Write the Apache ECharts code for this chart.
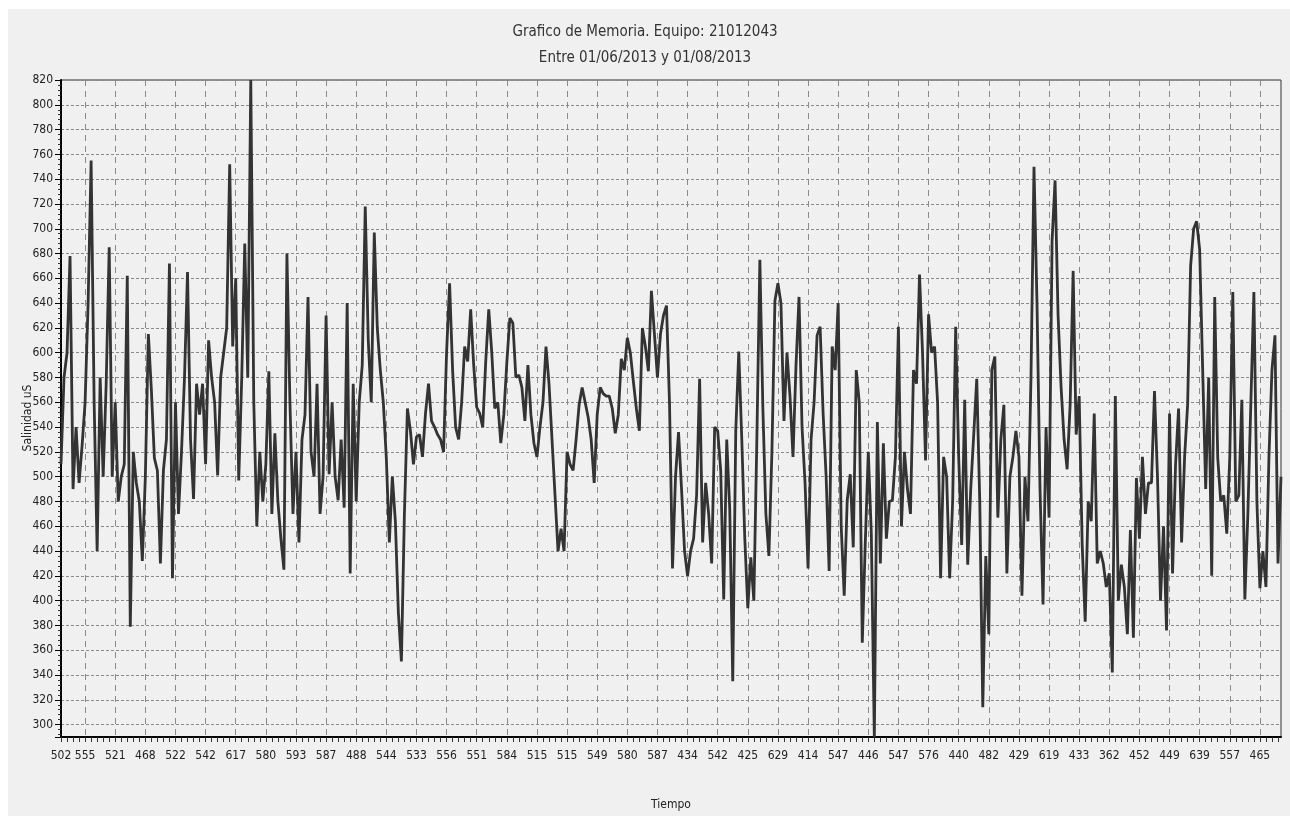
<!DOCTYPE html>
<html>
<head>
<meta charset="utf-8">
<script src="https://cdn.jsdelivr.net/npm/echarts@6/dist/echarts.min.js"></script>
<style>
html,body{margin:0;padding:0;background:#fff;}
#c{width:1290px;height:816px;}
</style>
</head>
<body>
<div id="c"></div>
<script>
const titleText = 'Grafico de Memoria. Equipo: 21012043';
const subtitleText = 'Entre 01/06/2013 y 01/08/2013';
const yAxisName = 'Salinidad uS';
const xAxisName = 'Tiempo';
const yMin = 290;
const yMax = 820;

const xTickLabels = ['502','555','521','468','522','542','617','580','593','587','488','544','533','556','551','584','515','515','549','580','587','434','542','425','629','414','547','446','547','576','440','482','429','619','433','362','452','449','639','557','465'];

const salinidad = [
510,580,600,678,490,540,495,525,560,640,
755,560,440,580,500,575,685,500,560,480,
500,510,662,379,520,495,480,432,500,615,
570,515,505,430,505,530,672,418,560,470,
520,580,665,530,482,575,550,575,510,610,
580,560,501,580,600,620,752,605,660,497,
580,688,580,820,560,460,520,480,510,585,
470,535,480,450,425,680,560,470,520,447,
530,550,645,520,500,575,470,500,630,502,
560,500,481,530,475,640,422,575,480,560,
590,718,610,560,697,620,586,560,515,447,
500,464,390,351,470,555,537,510,532,534,
516,551,575,545,540,534,530,520,600,656,
586,540,530,560,605,593,635,590,556,551,
540,593,635,600,555,560,527,550,592,628,
624,580,582,572,545,590,550,527,516,540,
560,605,575,530,485,440,458,440,520,510,
505,530,558,572,560,548,530,495,550,572,
567,565,565,555,535,550,595,586,612,600,
577,555,537,620,605,585,650,615,580,615,
630,638,560,426,500,536,490,440,420,440,
450,485,579,447,495,470,430,540,537,505,
401,530,474,335,537,601,530,450,394,435,
400,530,675,555,470,436,520,642,656,640,
545,600,565,516,590,645,540,495,426,530,
560,614,621,551,500,424,605,586,640,460,
404,481,502,443,586,560,366,447,520,454,
290,544,430,527,450,480,481,516,621,460,
520,490,470,586,575,663,600,513,631,600,
605,560,418,516,500,418,480,621,516,445,
562,429,490,534,579,480,314,436,373,586,
597,467,530,558,422,500,516,537,516,404,
500,464,580,750,640,490,397,540,467,690,
739,630,572,530,506,558,666,534,565,445,
383,480,464,551,430,440,430,411,422,342,
565,400,429,411,373,457,370,499,450,516,
470,495,495,569,500,400,460,376,551,422,
510,555,447,516,558,670,700,706,683,586,
490,580,420,645,515,480,485,454,516,649,
480,485,562,401,470,560,649,480,410,440,
411,516,586,614,430,500
];

// first tick label sits on the first sample, the next ones every LABEL_STEP samples from LABEL_START
const LABEL_START = 8;
const LABEL_STEP = 10;
function labelSlot(i) {
  if (i === 0) return 0;
  if (i >= LABEL_START && (i - LABEL_START) % LABEL_STEP === 0) return 1 + (i - LABEL_START) / LABEL_STEP;
  return -1;
}
const categories = salinidad.map((_, i) => {
  const s = labelSlot(i);
  return (s >= 0 && s < xTickLabels.length) ? xTickLabels[s] : '';
});

const FONT = "'DejaVu Sans Condensed', 'Liberation Sans', sans-serif";

const chart = echarts.init(document.getElementById('c'), null, {renderer: 'canvas'});
chart.setOption({
  animation: false,
  backgroundColor: '#f0f0f0',
  graphic: [
    {type: 'rect', shape: {x: 0, y: 0, width: 1290, height: 9}, style: {fill: '#ffffff'}, silent: true},
    {type: 'rect', shape: {x: 0, y: 0, width: 8, height: 816}, style: {fill: '#ffffff'}, silent: true}
  ],
  title: [
    {
      text: titleText, left: 'center', top: 23, padding: 0,
      textStyle: {fontFamily: FONT, fontSize: 15, fontWeight: 'normal', color: '#333', lineHeight: 18}
    },
    {
      text: subtitleText, left: 'center', top: 49, padding: 0,
      textStyle: {fontFamily: FONT, fontSize: 15, fontWeight: 'normal', color: '#333', lineHeight: 18}
    }
  ],
  grid: {left: 61, right: 9, top: 80, bottom: 75, show: true, borderColor: '#333', borderWidth: 1, backgroundColor: 'transparent'},
  xAxis: {
    type: 'category',
    data: categories,
    boundaryGap: false,
    name: xAxisName,
    nameLocation: 'middle',
    nameGap: 62,
    nameMoveOverlap: false,
    nameTextStyle: {fontFamily: FONT, fontSize: 12, color: '#222'},
    axisLine: {onZero: false, lineStyle: {color: '#000', width: 2}},
    axisTick: {show: true, interval: (i) => i % 2 === 0, length: 5, lineStyle: {color: '#333'}},
    axisLabel: {interval: (i) => labelSlot(i) >= 0, margin: 13, fontFamily: FONT, fontSize: 12, color: '#222'},
    splitLine: {show: true, interval: (i) => labelSlot(i) > 0, lineStyle: {color: '#8a8a8a', width: 1, type: [6, 5]}}
  },
  yAxis: {
    type: 'value',
    min: yMin,
    max: yMax,
    splitNumber: 26,
    minInterval: 20,
    maxInterval: 20,
    name: yAxisName,
    nameLocation: 'middle',
    nameGap: 27,
    nameMoveOverlap: false,
    nameTextStyle: {fontFamily: FONT, fontSize: 12, color: '#222', padding: [0, 19, 0, 0]},
    axisLine: {show: true, onZero: false, lineStyle: {color: '#000', width: 2}},
    axisTick: {show: true, length: 6, lineStyle: {color: '#000'}},
    minorTick: {show: true, splitNumber: 5, length: 3, lineStyle: {color: '#333'}},
    axisLabel: {margin: 8, fontFamily: FONT, fontSize: 12, color: '#222', formatter: (v) => (v % 20 === 0 ? String(v) : '')},
    splitLine: {show: true, lineStyle: {color: '#8a8a8a', width: 1, type: [3, 2]}}
  },
  series: [{
    type: 'line',
    data: salinidad,
    symbol: 'none',
    clip: true,
    lineStyle: {color: '#333', width: 2.8, join: 'bevel'}
  }]
});
</script>
</body>
</html>
